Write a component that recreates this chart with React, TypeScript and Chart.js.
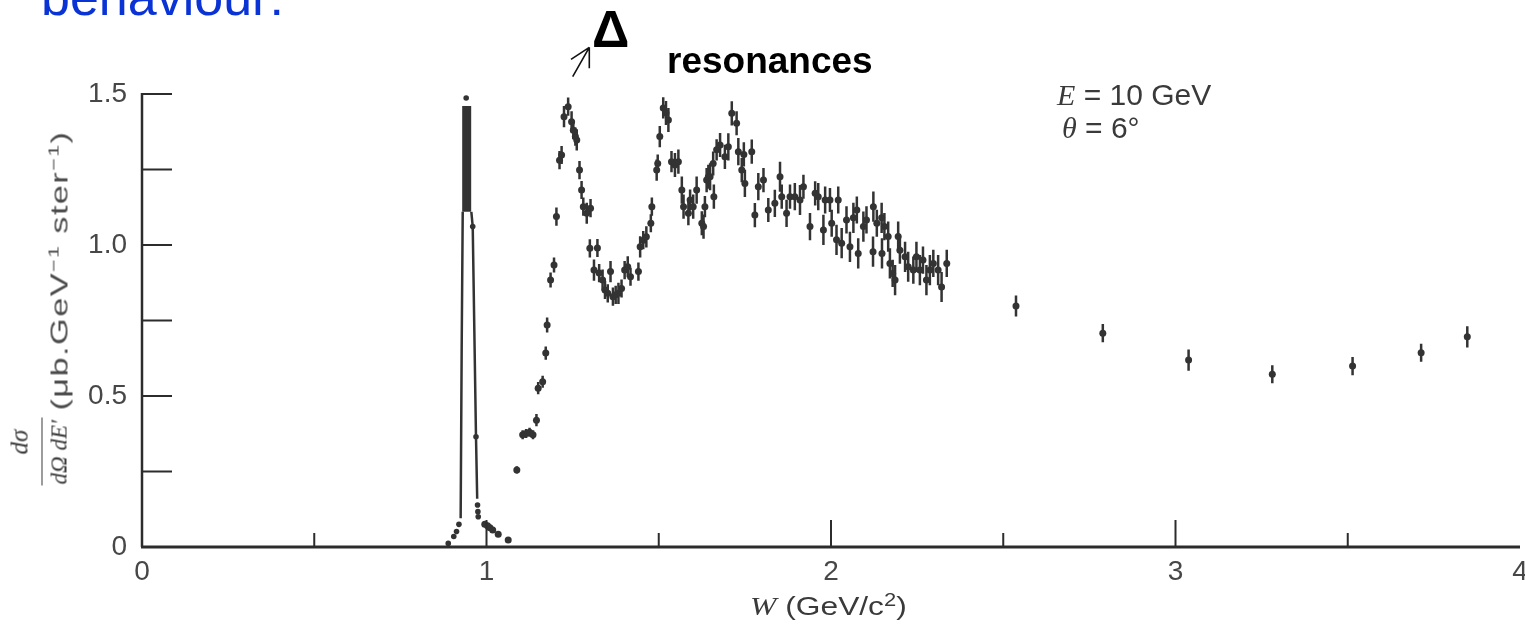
import React, { useEffect, useRef } from "react";
import { Chart, registerables } from "chart.js";

Chart.register(...registerables);

// ---------- axes ----------
const xTickValues = [0, 1, 2, 3, 4];
const xLongMarks = [1, 2, 3];
const xShortMarks = [0.5, 1.5, 2.5, 3.5];
const yTickValues = [0, 0.5, 1.0, 1.5];
const yMarks = [0.25, 0.5, 0.75, 1.0, 1.25, 1.5];

// ---------- elastic peak (W in GeV/c^2, cross-section) ----------
const elasticCoreW = [0.9425, 0.9425];
const elasticCoreV = [1.11, 1.46];
const elasticLeftW = [0.925, 0.928, 0.931];
const elasticLeftV = [0.095, 0.669, 1.11];
const elasticRightW = [0.956, 0.96, 0.9695, 0.973];
const elasticRightV = [1.11, 1.061, 0.365, 0.16];
const elasticDotW = [0.889, 0.905, 0.913, 0.92, 0.941, 0.96, 0.9695, 0.974, 0.975, 0.976];
const elasticDotV = [0.012, 0.035, 0.051, 0.075, 1.487, 1.061, 0.365, 0.139, 0.117, 0.1];

// ---------- measured inelastic points ----------
const resW = [
  0.995, 1.003, 1.01, 1.018, 1.034, 1.063,
  1.088, 1.105, 1.115, 1.125, 1.135, 1.145, 1.15, 1.163, 1.172, 1.176, 1.186, 1.196,
  1.203, 1.212, 1.218, 1.225, 1.237, 1.247, 1.252, 1.258, 1.262, 1.27, 1.276, 1.281, 1.291, 1.3, 1.302, 1.312, 1.322, 1.327, 1.337, 1.344,
  1.352, 1.36, 1.367, 1.375, 1.383, 1.392, 1.401, 1.41, 1.418, 1.441, 1.446, 1.455, 1.464, 1.477, 1.48, 1.494, 1.497, 1.503,
  1.513, 1.521, 1.528, 1.537, 1.547, 1.557, 1.567, 1.572, 1.586, 1.591, 1.6, 1.61, 1.625, 1.63, 1.634, 1.639, 1.644, 1.649, 1.658, 1.66, 1.668, 1.678, 1.692, 1.702, 1.712,
  1.726, 1.731, 1.741, 1.747, 1.75, 1.77, 1.779, 1.789, 1.804, 1.818, 1.837, 1.852, 1.857, 1.871, 1.881, 1.895, 1.91, 1.92, 1.939, 1.954, 1.963, 1.978, 1.983, 1.997, 2.002,
  2.016, 2.021, 2.031, 2.045, 2.055, 2.065, 2.075, 2.079, 2.094, 2.103, 2.122, 2.123, 2.133, 2.147, 2.148, 2.155, 2.166, 2.171, 2.179, 2.186, 2.195, 2.2, 2.215, 2.224,
  2.239, 2.248, 2.258, 2.267, 2.277, 2.287, 2.297, 2.311, 2.321, 2.336,
  2.537, 2.789, 3.038, 3.281, 3.514, 3.713, 3.847,
];
const resV = [
  0.075, 0.07, 0.064, 0.056, 0.042, 0.023,
  0.255, 0.372, 0.376, 0.38, 0.372, 0.42, 0.526, 0.547, 0.642, 0.735, 0.884, 0.934,
  1.094, 1.281, 1.298, 1.425, 1.458, 1.408, 1.38, 1.359, 1.348, 1.248, 1.182, 1.127, 1.105, 0.989, 1.122, 0.917, 0.99, 0.907, 0.884, 0.851,
  0.84, 0.912, 0.829, 0.835, 0.84, 0.856, 0.917, 0.928, 0.895, 0.912, 0.994, 1.016, 1.027, 1.072, 1.127, 1.248, 1.27, 1.359,
  1.454, 1.437, 1.414, 1.276, 1.265, 1.276, 1.182, 1.127, 1.105, 1.149, 1.127, 1.182, 1.072, 1.061, 1.127, 1.215, 1.226, 1.226, 1.27, 1.16, 1.315, 1.331, 1.292, 1.325, 1.436,
  1.403, 1.309, 1.248, 1.3, 1.204, 1.309, 1.099, 1.193, 1.215, 1.116, 1.138, 1.226, 1.16, 1.105, 1.16, 1.16, 1.149, 1.193, 1.061, 1.171, 1.16, 1.05, 1.149, 1.149, 1.072,
  1.017, 1.149, 1.006, 1.083, 0.994, 1.09, 1.116, 0.972, 1.061, 1.083, 0.978, 1.127, 1.072, 1.09, 0.972, 1.061, 1.028, 0.939, 0.906, 0.884, 1.028, 0.983, 0.961, 0.928,
  0.917, 0.961, 0.917, 0.95, 0.884, 0.917, 0.939, 0.917, 0.861, 0.939,
  0.798, 0.708, 0.619, 0.572, 0.599, 0.643, 0.696,
];
const resErr = [
  0.008, 0.008, 0.008, 0.008, 0.008, 0.008,
  0.012, 0.015, 0.015, 0.015, 0.015, 0.02, 0.02, 0.02, 0.022, 0.025, 0.025, 0.025,
  0.03, 0.03, 0.03, 0.035, 0.03, 0.035, 0.03, 0.03, 0.035, 0.03, 0.03, 0.03, 0.035, 0.03, 0.03, 0.035, 0.03, 0.03, 0.035, 0.03,
  0.03, 0.035, 0.03, 0.03, 0.035, 0.03, 0.03, 0.035, 0.03, 0.03, 0.035, 0.03, 0.035, 0.03, 0.03, 0.035, 0.03, 0.035,
  0.035, 0.04, 0.04, 0.035, 0.04, 0.04, 0.045, 0.04, 0.04, 0.035, 0.04, 0.045, 0.04, 0.04, 0.035, 0.04, 0.04, 0.045, 0.04, 0.04, 0.035, 0.04, 0.04, 0.045, 0.04,
  0.04, 0.045, 0.04, 0.04, 0.045, 0.04, 0.04, 0.045, 0.04, 0.04, 0.045, 0.05, 0.04, 0.045, 0.04, 0.045, 0.05, 0.04, 0.045, 0.04, 0.045, 0.05, 0.045, 0.04, 0.045,
  0.05, 0.045, 0.05, 0.045, 0.05, 0.05, 0.045, 0.05, 0.05, 0.045, 0.05, 0.05, 0.045, 0.05, 0.05, 0.045, 0.05, 0.05, 0.045, 0.05, 0.05, 0.045, 0.05, 0.05,
  0.045, 0.05, 0.05, 0.045, 0.05, 0.05, 0.045, 0.05, 0.05, 0.045,
  0.035, 0.03, 0.035, 0.03, 0.03, 0.03, 0.035,
];
const resBinHalfWidth = 0.007;

const INK = "#333333";
const LABEL = "#474747";

const pts = (ws: number[], vs: number[]) => ws.map((w, i) => ({ x: w, y: vs[i] }));

const errorBarPlugin = {
  id: "errorBars",
  beforeDatasetDraw(chart: any, args: any) {
    const ds = chart.data.datasets[args.index];
    if (!ds.errY) return;
    const xs = chart.scales.x;
    const ys = chart.scales.y;
    const ctx = chart.ctx;
    ctx.save();
    ctx.strokeStyle = ds.backgroundColor;
    ctx.lineWidth = 2.5;
    ds.data.forEach((p: any, i: number) => {
      const e = ds.errY[i] ?? 0;
      const px = xs.getPixelForValue(p.x);
      const py = ys.getPixelForValue(p.y);
      ctx.beginPath();
      ctx.moveTo(px, ys.getPixelForValue(p.y - e));
      ctx.lineTo(px, ys.getPixelForValue(p.y + e));
      ctx.moveTo(xs.getPixelForValue(p.x - ds.errX), py);
      ctx.lineTo(xs.getPixelForValue(p.x + ds.errX), py);
      ctx.stroke();
    });
    ctx.restore();
  },
};

const framePlugin = {
  id: "frame",
  afterDatasetsDraw(chart: any) {
    const xs = chart.scales.x;
    const ys = chart.scales.y;
    const ctx = chart.ctx;
    const x0 = xs.getPixelForValue(0);
    const x4 = xs.getPixelForValue(4);
    const y0 = ys.getPixelForValue(0);
    const yTop = ys.getPixelForValue(1.5);
    ctx.save();
    ctx.strokeStyle = "#2c2c2c";
    ctx.lineCap = "butt";
    ctx.lineWidth = 2.5;
    ctx.beginPath();
    ctx.moveTo(x0, yTop - 1);
    ctx.lineTo(x0, y0);
    ctx.stroke();
    ctx.lineWidth = 3;
    ctx.beginPath();
    ctx.moveTo(x0 - 1, y0);
    ctx.lineTo(x4, y0);
    ctx.stroke();
    ctx.lineWidth = 2;
    ctx.beginPath();
    yMarks.forEach((v) => {
      const py = ys.getPixelForValue(v);
      ctx.moveTo(x0, py);
      ctx.lineTo(x0 + 30, py);
    });
    xLongMarks.forEach((v) => {
      const px = xs.getPixelForValue(v);
      ctx.moveTo(px, y0);
      ctx.lineTo(px, y0 - 27);
    });
    xShortMarks.forEach((v) => {
      const px = xs.getPixelForValue(v);
      ctx.moveTo(px, y0);
      ctx.lineTo(px, y0 - 14);
    });
    ctx.stroke();
    ctx.restore();
  },
};

export default function App() {
  const ref = useRef<HTMLCanvasElement>(null);

  useEffect(() => {
    const canvas = ref.current;
    if (!canvas) return;
    const chart = new Chart(canvas, {
      type: "scatter",
      data: {
        datasets: [
          {
            label: "measured",
            data: pts(resW, resV),
            errY: resErr,
            errX: resBinHalfWidth,
            pointRadius: 3.5,
            pointHoverRadius: 3.5,
            backgroundColor: INK,
            borderWidth: 0,
            clip: false,
          } as any,
          {
            label: "elastic core",
            data: pts(elasticCoreW, elasticCoreV),
            showLine: true,
            borderColor: INK,
            borderWidth: 9,
            borderCapStyle: "butt",
            pointRadius: 0,
            clip: false,
          } as any,
          {
            label: "elastic left",
            data: pts(elasticLeftW, elasticLeftV),
            showLine: true,
            borderColor: INK,
            borderWidth: 2.5,
            pointRadius: 0,
            clip: false,
          } as any,
          {
            label: "elastic right",
            data: pts(elasticRightW, elasticRightV),
            showLine: true,
            borderColor: INK,
            borderWidth: 2.5,
            pointRadius: 0,
            clip: false,
          } as any,
          {
            label: "elastic dots",
            data: pts(elasticDotW, elasticDotV),
            pointRadius: 2.8,
            backgroundColor: INK,
            borderWidth: 0,
            clip: false,
          } as any,
        ],
      },
      options: {
        responsive: false,
        animation: false,
        events: [],
        layout: { padding: { top: 94, right: 5, left: 0, bottom: 0 } },
        plugins: { legend: { display: false }, tooltip: { enabled: false }, title: { display: false } },
        scales: {
          x: {
            type: "linear",
            min: 0,
            max: 4,
            grid: { display: false, drawTicks: false },
            border: { display: false },
            afterBuildTicks: (a: any) => {
              a.ticks = xTickValues.map((v) => ({ value: v }));
            },
            afterFit: (a: any) => {
              a.height = 78;
              a.paddingLeft = 0;
              a.paddingRight = 0;
            },
            ticks: {
              font: { family: "Liberation Sans", size: 28 },
              color: LABEL,
              padding: 8,
              maxRotation: 0,
              autoSkip: false,
              callback: (v: any) => String(v),
            },
          },
          y: {
            type: "linear",
            min: 0,
            max: 1.5,
            grid: { display: false, drawTicks: false },
            border: { display: false },
            afterBuildTicks: (a: any) => {
              a.ticks = yTickValues.map((v) => ({ value: v }));
            },
            afterFit: (a: any) => {
              a.width = 142;
            },
            ticks: {
              font: { family: "Liberation Sans", size: 28 },
              color: LABEL,
              padding: 15,
              autoSkip: false,
              callback: (v: any) => (Number(v) === 0 ? "0" : Number(v).toFixed(1)),
            },
          },
        },
      } as any,
      plugins: [errorBarPlugin, framePlugin],
    });
    return () => chart.destroy();
  }, []);

  const serifItalic = { fontFamily: '"Liberation Serif", serif', fontStyle: "italic" as const };

  return (
    <div
      style={{
        position: "absolute",
        left: 0,
        top: 0,
        width: 1525,
        height: 625,
        overflow: "hidden",
        background: "#ffffff",
      }}
    >
      <canvas ref={ref} width={1525} height={625} style={{ position: "absolute", left: 0, top: 0 }} />

      <div
        style={{
          position: "absolute",
          left: 41,
          top: -29,
          fontFamily: '"Liberation Sans", Arial, sans-serif',
          fontSize: 52,
          lineHeight: "52px",
          color: "#0a33d6",
          whiteSpace: "nowrap",
        }}
      >
        behaviour:
      </div>

      <div
        style={{
          position: "absolute",
          left: 592,
          top: 3,
          fontFamily: '"Liberation Sans", Arial, sans-serif',
          fontWeight: "bold",
          fontSize: 52,
          lineHeight: "52px",
          color: "#000",
        }}
      >
        Δ
      </div>
      <div
        style={{
          position: "absolute",
          left: 667,
          top: 42,
          fontFamily: '"Liberation Sans", Arial, sans-serif',
          fontWeight: "bold",
          fontSize: 37,
          lineHeight: "37px",
          color: "#000",
          whiteSpace: "nowrap",
        }}
      >
        resonances
      </div>
      <svg style={{ position: "absolute", left: 565, top: 44 }} width={30} height={40} viewBox="0 0 30 40">
        <path
          d="M7.7 32.7 L24.3 3.3 M24.3 3.3 L6 15.3 M24.3 3.3 L24.3 24.3"
          stroke="#111"
          strokeWidth={1.6}
          fill="none"
        />
      </svg>

      <div
        style={{
          position: "absolute",
          left: 1057,
          top: 80,
          fontFamily: '"Liberation Sans", Arial, sans-serif',
          fontSize: 30,
          lineHeight: "30px",
          color: "#3a3a3a",
          whiteSpace: "nowrap",
        }}
      >
        <span style={serifItalic}>E</span> = 10 GeV
      </div>
      <div
        style={{
          position: "absolute",
          left: 1062,
          top: 113,
          fontFamily: '"Liberation Sans", Arial, sans-serif',
          fontSize: 30,
          lineHeight: "30px",
          color: "#3a3a3a",
          whiteSpace: "nowrap",
        }}
      >
        <span style={serifItalic}>θ</span> = 6°
      </div>

      <div
        style={{
          position: "absolute",
          left: 750,
          top: 593,
          fontFamily: '"Liberation Sans", Arial, sans-serif',
          fontSize: 26,
          lineHeight: "26px",
          color: "#3a3a3a",
          whiteSpace: "nowrap",
          transform: "scaleX(1.22)",
          transformOrigin: "left center",
        }}
      >
        <span style={serifItalic}>W</span> (GeV/c
        <sup style={{ fontSize: 18, verticalAlign: "top", position: "relative", top: -6 }}>2</sup>)
      </div>

      <div
        style={{
          position: "absolute",
          left: 41 - 177.5,
          top: 307.5 - 31,
          width: 355,
          height: 62,
          transform: "rotate(-90deg)",
          color: "#3a3a3a",
        }}
      >
        <div
          style={{
            position: "absolute",
            left: 31,
            top: -4,
            fontSize: 25,
            lineHeight: "25px",
            whiteSpace: "nowrap",
            ...serifItalic,
          }}
        >
          dσ
        </div>
        <div
          style={{
            position: "absolute",
            left: 0,
            top: 31,
            width: 68,
            height: 0,
            borderTop: "1.6px solid #3a3a3a",
          }}
        />
        <div
          style={{
            position: "absolute",
            left: 1,
            top: 37,
            fontSize: 23,
            lineHeight: "23px",
            whiteSpace: "nowrap",
            ...serifItalic,
          }}
        >
          dΩ dE′
        </div>
        <div
          style={{
            position: "absolute",
            left: 75,
            top: 37,
            fontFamily: '"Liberation Sans", Arial, sans-serif',
            fontSize: 24,
            lineHeight: "24px",
            letterSpacing: 1,
            whiteSpace: "nowrap",
            color: "#4a4a4a",
            transform: "scaleX(1.43)",
            transformOrigin: "left center",
          }}
        >
          (μb.GeV
          <sup style={{ fontSize: 15, verticalAlign: "top", position: "relative", top: -6 }}>−1</sup> ster
          <sup style={{ fontSize: 15, verticalAlign: "top", position: "relative", top: -6 }}>−1</sup>)
        </div>
      </div>
    </div>
  );
}
